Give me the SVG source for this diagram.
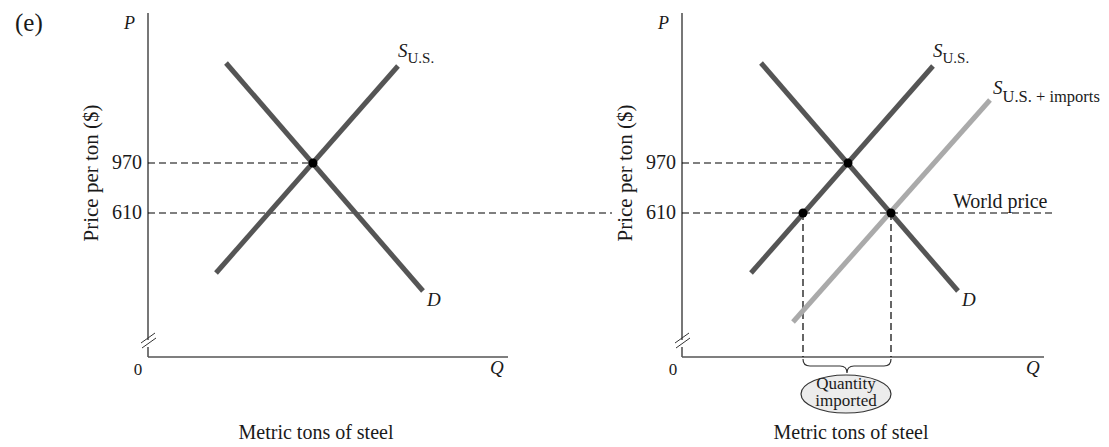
<svg xmlns="http://www.w3.org/2000/svg" width="1109" height="447" viewBox="0 0 1109 447">
<style>
text{font-family:"Liberation Serif","Times New Roman",serif;fill:#1a1a1a}
.lbl{font-size:20px}
.it{font-style:italic;font-size:19px}
.sub{font-size:15px}
.axis{stroke:#555;stroke-width:1.6;fill:none}
.curve{stroke:#555;stroke-width:5;fill:none}
.light{stroke:#aaa;stroke-width:5;fill:none}
.dash{stroke:#000;stroke-width:1.2;stroke-dasharray:7 4;fill:none}
.dot{fill:#000}
</style>
<rect width="1109" height="447" fill="#fff"/>
<text x="15" y="31" style="font-size:25px">(e)</text>

<g id="left-panel">
  <g id="left-axes">
    <line class="axis" x1="148" y1="13" x2="148" y2="340"/>
    <line class="axis" x1="148" y1="347" x2="148" y2="357"/>
    <line class="axis" x1="148" y1="357" x2="508" y2="357"/>
    <line stroke="#333" stroke-width="1" x1="141" y1="343" x2="155" y2="333"/>
    <line stroke="#333" stroke-width="1" x1="142" y1="348" x2="156" y2="338"/>
    <text class="it" x="124" y="29" style="font-size:18px">P</text>
    <text class="it" x="490" y="374">Q</text>
    <text class="lbl" x="138" y="375" text-anchor="middle" style="font-size:17px">0</text>
    <text class="lbl" x="142" y="169" text-anchor="end">970</text>
    <text class="lbl" x="142" y="219" text-anchor="end">610</text>
    <text class="lbl" transform="translate(98,173) rotate(-90)" text-anchor="middle" style="font-size:21px">Price per ton ($)</text>
    <text class="lbl" x="316" y="439" text-anchor="middle">Metric tons of steel</text>
  </g>
  <g id="left-dashes">
    <line class="dash" x1="148" y1="163" x2="313" y2="163"/>
    <line class="dash" x1="148" y1="213" x2="612" y2="213"/>
  </g>
  <g id="left-demand">
    <line class="curve" x1="226" y1="63" x2="423" y2="291"/>
    <text class="it" x="427" y="306">D</text>
  </g>
  <g id="left-supply">
    <line class="curve" x1="216" y1="273" x2="398" y2="66"/>
    <text x="398" y="57"><tspan class="it">S</tspan><tspan class="sub" dy="6">U.S.</tspan></text>
  </g>
  <circle class="dot" cx="313" cy="163" r="4.5"/>
</g>

<g id="right-panel">
  <g id="right-axes">
    <line class="axis" x1="682" y1="13" x2="682" y2="340"/>
    <line class="axis" x1="682" y1="347" x2="682" y2="357"/>
    <line class="axis" x1="682" y1="357" x2="1044" y2="357"/>
    <line stroke="#333" stroke-width="1" x1="675" y1="343" x2="689" y2="333"/>
    <line stroke="#333" stroke-width="1" x1="676" y1="348" x2="690" y2="338"/>
    <text class="it" x="658" y="29" style="font-size:18px">P</text>
    <text class="it" x="1026" y="374">Q</text>
    <text class="lbl" x="673" y="375" text-anchor="middle" style="font-size:17px">0</text>
    <text class="lbl" x="676" y="169" text-anchor="end">970</text>
    <text class="lbl" x="676" y="219" text-anchor="end">610</text>
    <text class="lbl" transform="translate(632,173) rotate(-90)" text-anchor="middle" style="font-size:21px">Price per ton ($)</text>
    <text class="lbl" x="851" y="439" text-anchor="middle">Metric tons of steel</text>
    <text class="lbl" x="953" y="208">World price</text>
  </g>
  <g id="right-dashes">
    <line class="dash" x1="682" y1="163" x2="848" y2="163"/>
    <line class="dash" x1="682" y1="213" x2="1053" y2="213"/>
    <line class="dash" x1="803" y1="213" x2="803" y2="357"/>
    <line class="dash" x1="891" y1="213" x2="891" y2="357"/>
  </g>
  <g id="right-imports-supply">
    <line class="light" x1="793" y1="322" x2="990" y2="100"/>
    <text x="993" y="94"><tspan class="it">S</tspan><tspan class="sub" dy="8" style="font-size:16.5px">U.S. + imports</tspan></text>
  </g>
  <g id="right-demand">
    <line class="curve" x1="761" y1="63" x2="958" y2="291"/>
    <text class="it" x="962" y="306">D</text>
  </g>
  <g id="right-supply">
    <line class="curve" x1="751" y1="273" x2="933" y2="66"/>
    <text x="933" y="57"><tspan class="it">S</tspan><tspan class="sub" dy="6">U.S.</tspan></text>
  </g>
  <circle class="dot" cx="848" cy="163" r="4.5"/>
  <circle class="dot" cx="803" cy="213" r="4.5"/>
  <circle class="dot" cx="891" cy="213" r="4.5"/>
  <g id="quantity-imported">
    <path d="M803 359 Q803 366 810 366 L840 366 Q847 366 847 373 Q847 366 854 366 L884 366 Q891 366 891 359" fill="none" stroke="#333" stroke-width="1.2"/>
    <ellipse cx="846" cy="394" rx="45" ry="19" fill="#ececec" stroke="#333" stroke-width="1.2"/>
    <text x="846" y="389" text-anchor="middle" style="font-size:17px">Quantity</text>
    <text x="846" y="406" text-anchor="middle" style="font-size:17px">imported</text>
  </g>
</g>
</svg>
